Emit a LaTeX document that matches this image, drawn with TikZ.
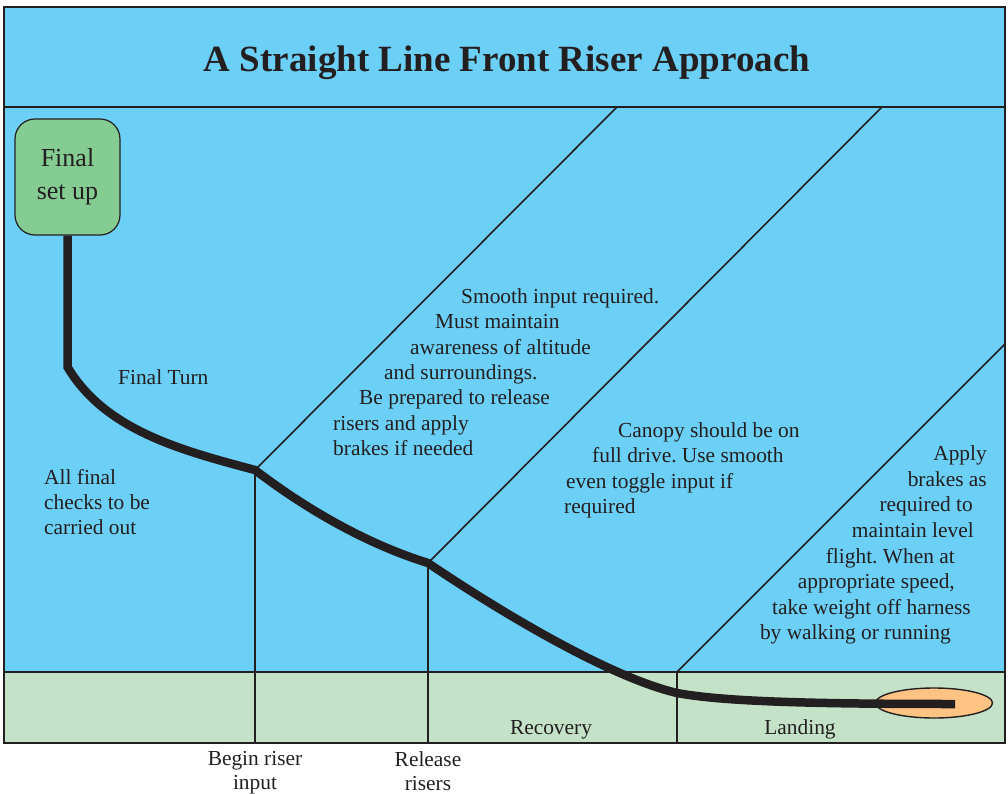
\documentclass[tikz,border=0pt]{standalone}
\usepackage{fontspec}
\setmainfont{Liberation Serif}
\usetikzlibrary{shapes.geometric}
\frenchspacing
\definecolor{skyblue}{HTML}{6BCFF6}
\definecolor{groundgreen}{HTML}{C4E2C7}
\definecolor{boxgreen}{HTML}{85CC92}
\definecolor{landorange}{HTML}{FFC384}
\definecolor{ink}{HTML}{231F20}
\begin{document}
\begin{tikzpicture}[x=1pt,y=-1pt,
  frame/.style={draw=ink, line width=2pt},
  divider/.style={draw=ink, line width=1.6pt},
  txt/.style={text=ink, font=\fontsize{21.4}{25}\selectfont\frenchspacing, inner sep=0pt, anchor=west, text height=14pt, text depth=0pt},
  rtxt/.style={txt, anchor=east},
  ltxt/.style={txt, anchor=center},
  ctxt/.style={text=ink, font=\fontsize{21.4}{24}\selectfont, inner sep=0pt, align=center, anchor=north},
  flightpath/.style={draw=ink, line width=8.5pt},
]
\useasboundingbox (0,0) rectangle (1008,794);
% backgrounds
\fill[skyblue] (4,7) rectangle (1005,672);
\fill[groundgreen] (4,672) rectangle (1005,743);

% key coordinates
\coordinate (tl) at (4,7);
\coordinate (br) at (1005,743);
\coordinate (tsepL) at (4,107);
\coordinate (tsepR) at (1005,107);
\coordinate (gL) at (4,672);
\coordinate (gR) at (1005,672);
\coordinate (p0) at (67.5,367);
\coordinate (p1) at (255,470);
\coordinate (p2) at (428,563);
\coordinate (p3) at (677,693);
\coordinate (pend) at (955,704);
\coordinate (b1) at (255,743);
\coordinate (b2) at (428,743);
\coordinate (b3) at (677,743);
\coordinate (g3) at (677,672);
\coordinate (d1) at (617,107);
\coordinate (d2) at (882,107);
\coordinate (d3) at (1005,344);

% dividers
\draw[divider] (tsepL) -- (tsepR);
\draw[divider] (gL) -- (gR);
\draw[divider] (p1) -- (b1);
\draw[divider] (p2) -- (b2);
\draw[divider] (g3) -- (b3);
\draw[divider] (p1) -- (d1);
\draw[divider] (p2) -- (d2);
\draw[divider] (g3) -- (d3);
\draw[frame] (tl) rectangle (br);

% start box
\node[draw=ink, line width=1.2pt, fill=boxgreen, rounded corners=20pt,
      minimum width=105pt, minimum height=116pt, inner sep=0pt,
      text=ink, align=center, font=\fontsize{26}{33}\selectfont] (setup) at (67.5,177) {Final\\set up};

% landing zone
\node[draw=ink, line width=1.4pt, fill=landorange, ellipse,
      minimum width=117pt, minimum height=30pt, inner sep=0pt] (land) at (934,703) {};

% flight path
\draw[flightpath] (setup.south) -- (p0)
  .. controls (105,430) and (180,450) .. (p1)
  .. controls (310,512) and (370,545) .. (p2)
  .. controls (490,605) and (605,676) .. (p3)
  .. controls (720,701) and (800,704) .. (pend);

% title
\node[text=ink, font=\fontsize{37}{44}\selectfont\bfseries] (title) at (507,63) {A Straight Line Front Riser Approach};

% texts
\node[txt] (turn) at (118,377) {Final Turn};
\node[txt] (chk1) at (44,477) {All final};
\node[txt] (chk2) at (44,502) {checks to be};
\node[txt] (chk3) at (44,527) {carried out};

\node[txt] (m1) at (461,296) {Smooth input required.};
\node[txt] (m2) at (435,321) {Must maintain};
\node[txt] (m3) at (410,347) {awareness of altitude};
\node[txt] (m4) at (384,372) {and surroundings.};
\node[txt] (m5) at (359,397) {Be prepared to release};
\node[txt] (m6) at (333,423) {risers and apply};
\node[txt] (m7) at (333,448) {brakes if needed};

\node[txt] (c1) at (618,430) {Canopy should be on};
\node[txt] (c2) at (592,455) {full drive. Use smooth};
\node[txt] (c3) at (566,481) {even toggle input if};
\node[txt] (c4) at (564,506) {required};

\node[rtxt] (a1) at (987,453) {Apply};
\node[rtxt] (a2) at (987,479) {brakes as};
\node[rtxt] (a3) at (973,504) {required to};
\node[rtxt] (a4) at (974,530) {maintain level};
\node[rtxt] (a5) at (955,556) {flight. When at};
\node[rtxt] (a6) at (955,581) {appropriate speed,};
\node[rtxt] (a7) at (971,607) {take weight off harness};
\node[rtxt] (a8) at (951,632) {by walking or running};

\node[ltxt] (rec) at (551,727) {Recovery};
\node[ltxt] (lnd) at (800,727) {Landing};
\node[ctxt] (begin) at (255,751) {Begin riser\\input};
\node[ctxt] (release) at (428,751) {Release\\risers};
\end{tikzpicture}
\end{document}
